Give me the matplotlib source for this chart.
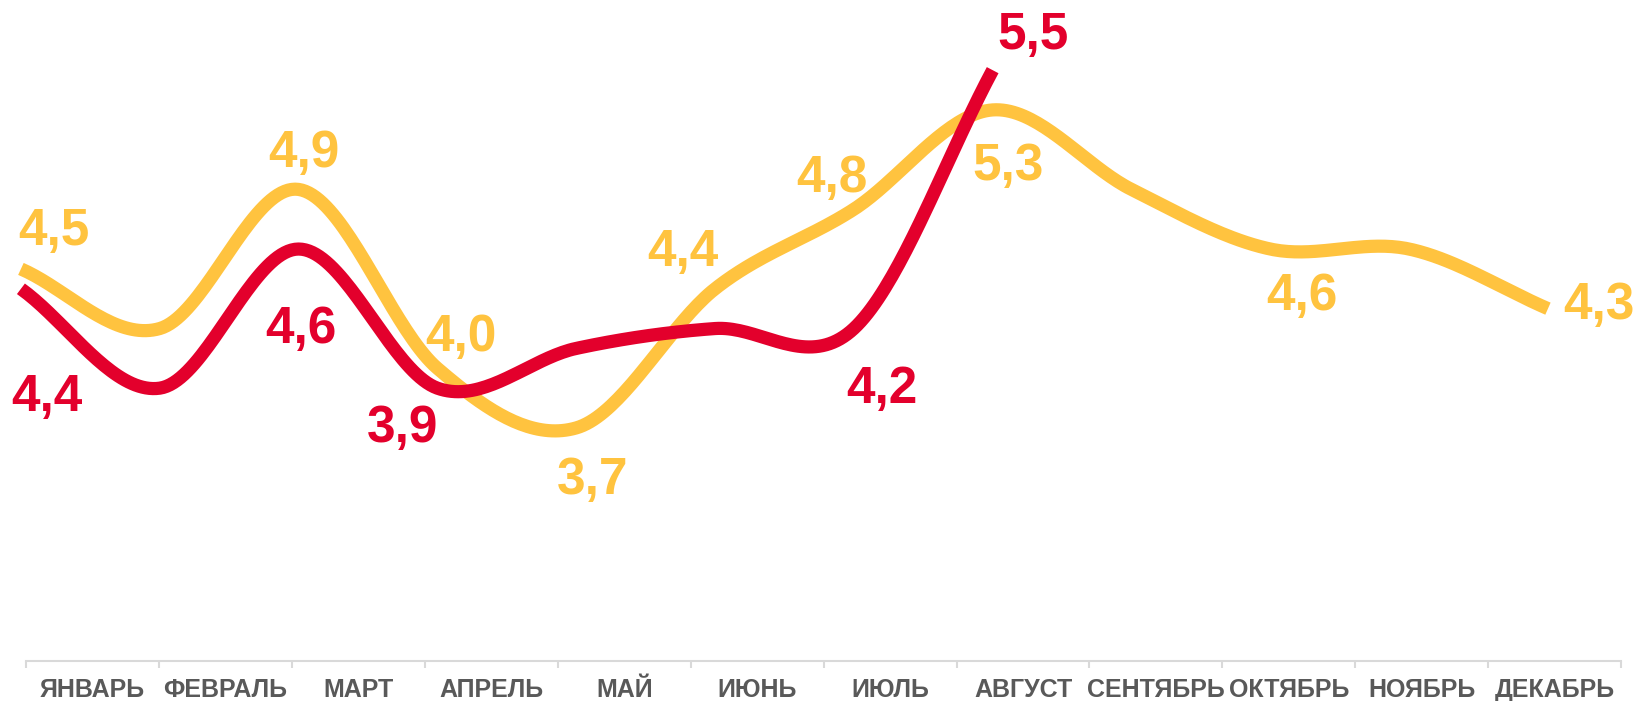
import numpy as np
import matplotlib
matplotlib.use("Agg")
import matplotlib.pyplot as plt

months = ["ЯНВАРЬ", "ФЕВРАЛЬ", "МАРТ", "АПРЕЛЬ", "МАЙ", "ИЮНЬ",
          "ИЮЛЬ", "АВГУСТ", "СЕНТЯБРЬ", "ОКТЯБРЬ", "НОЯБРЬ", "ДЕКАБРЬ"]
yellow_vals = [4.5, 4.2, 4.9, 4.0, 3.7, 4.4, 4.8, 5.3, 4.9, 4.6, 4.6, 4.3]
red_vals = [4.4, 3.9, 4.6, 3.9, 4.1, 4.2, 4.2, 5.5]

# which points carry a label, and where the label sits (offset in points)
yellow_labels = {0: (24, 27), 2: (4, 26), 3: (17, 22), 4: (12, -38), 5: (-23, 26),
                 6: (-16, 22), 7: (11, -41), 9: (23, -34), 11: (37, 2)}
red_labels = {0: (19, -78), 2: (2, -58), 3: (-25, -29), 6: (20, -44), 7: (29, 25)}

YELLOW = "#FFC33F"
RED = "#E3002C"
GREY = "#595959"


def smooth(vals, n=40):
    # Catmull-Rom style smoothing, like Excel's smoothed line
    y = np.asarray(vals, dtype=float)
    k = len(y)
    m = np.zeros(k)
    m[1:-1] = (y[2:] - y[:-2]) / 2
    m[0] = y[1] - y[0]
    m[-1] = y[-1] - y[-2]
    xs, ys = [], []
    t = np.linspace(0, 1, n, endpoint=False)
    for i in range(k - 1):
        h00 = 2 * t**3 - 3 * t**2 + 1
        h10 = t**3 - 2 * t**2 + t
        h01 = -2 * t**3 + 3 * t**2
        h11 = t**3 - t**2
        xs.append(i + t)
        ys.append(h00 * y[i] + h10 * m[i] + h01 * y[i + 1] + h11 * m[i + 1])
    xs.append([k - 1])
    ys.append([y[-1]])
    return np.concatenate(xs), np.concatenate(ys)


fig = plt.figure(figsize=(16.4, 7.01), dpi=100)
bottom = 0.0567
height = 1 - bottom

# category axis
ax = fig.add_axes([25 / 1568, bottom, 1525 / 1568, height])
ax.set_xlim(0, 12)
ax.set_ylim(0, 1)
for s in ["top", "left", "right"]:
    ax.spines[s].set_visible(False)
ax.spines["bottom"].set_color("#D9D9D9")
ax.spines["bottom"].set_linewidth(1.5)
ax.set_yticks([])
ax.set_xticks(np.arange(13))
ax.set_xticklabels([])
ax.tick_params(axis="x", which="major", length=5, width=1.5, color="#D9D9D9")
ax.set_xticks(np.arange(12) + 0.5, minor=True)
ax.set_xticklabels(months, minor=True)
ax.tick_params(axis="x", which="minor", length=0, pad=12)
for lab in ax.get_xticklabels(minor=True):
    lab.set_fontfamily("Liberation Sans")
    lab.set_fontweight("bold")
    lab.set_fontsize(18)
    lab.set_color(GREY)
ax.patch.set_visible(False)

# line axes (points spread a bit differently from the category bands)
lx = fig.add_axes([20 / 1568, bottom, 1460 / 1568, height])
lx.set_xlim(0, 11)
lx.set_ylim(2.526, 5.853)
lx.axis("off")

xs, ys = smooth(yellow_vals)
lx.plot(xs, ys, color=YELLOW, lw=9.5, solid_capstyle="butt", clip_on=False, zorder=2)
xs, ys = smooth(red_vals)
lx.plot(xs, ys, color=RED, lw=9.5, solid_capstyle="butt", clip_on=False, zorder=3)


def fmt(v):
    return f"{v:.1f}".replace(".", ",")


for i, off in yellow_labels.items():
    lx.annotate(fmt(yellow_vals[i]), (i, yellow_vals[i]), xytext=off, textcoords="offset points",
                ha="center", va="center", color=YELLOW, fontsize=37, fontweight="bold",
                family="Liberation Sans", annotation_clip=False, zorder=4)
for i, off in red_labels.items():
    lx.annotate(fmt(red_vals[i]), (i, red_vals[i]), xytext=off, textcoords="offset points",
                ha="center", va="center", color=RED, fontsize=37, fontweight="bold",
                family="Liberation Sans", annotation_clip=False, zorder=4)

fig.savefig("out.png", dpi=100, facecolor="white")
